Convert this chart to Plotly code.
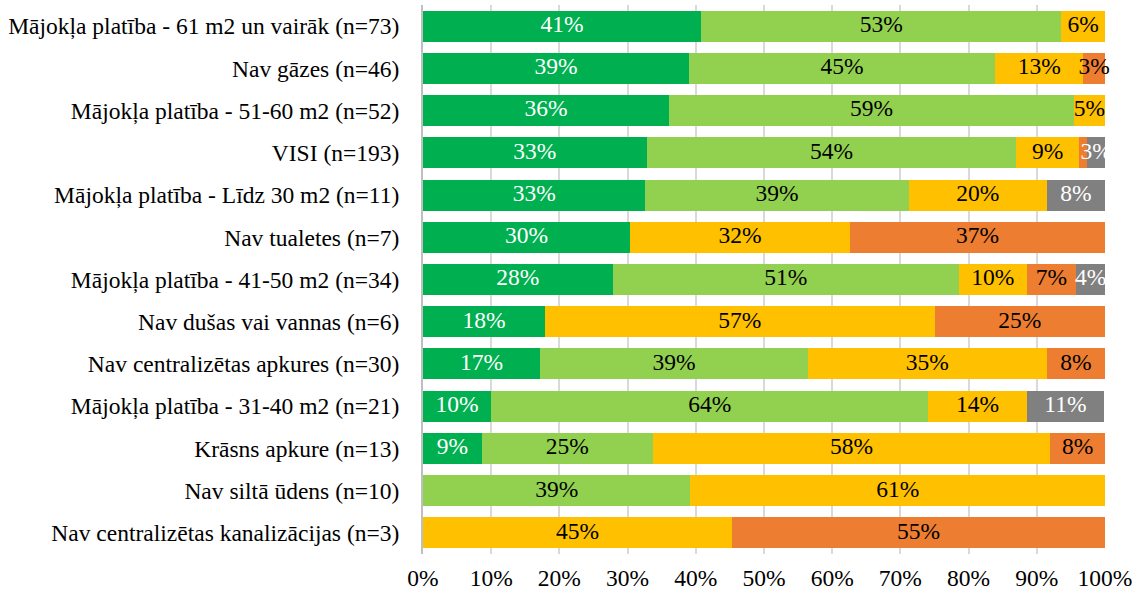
import plotly.graph_objects as go

categories = [
    "Mājokļa platība - 61 m2 un vairāk (n=73)",
    "Nav gāzes (n=46)",
    "Mājokļa platība - 51-60 m2 (n=52)",
    "VISI (n=193)",
    "Mājokļa platība - Līdz 30 m2 (n=11)",
    "Nav tualetes (n=7)",
    "Mājokļa platība - 41-50 m2 (n=34)",
    "Nav dušas vai vannas (n=6)",
    "Nav centralizētas apkures (n=30)",
    "Mājokļa platība - 31-40 m2 (n=21)",
    "Krāsns apkure (n=13)",
    "Nav siltā ūdens (n=10)",
    "Nav centralizētas kanalizācijas (n=3)",
]

s1 = [40.8, 39.0, 36.1, 32.8, 32.6, 30.4, 27.8, 17.9, 17.2, 10.0, 8.6, 0, 0]
s2 = [52.8, 44.9, 59.3, 54.2, 38.6, 0, 50.8, 0, 39.2, 64.1, 25.1, 39.2, 0]
s3 = [6.4, 12.9, 4.6, 9.2, 20.3, 32.2, 9.9, 57.1, 35.1, 14.4, 58.3, 60.8, 45.3]
s4 = [0, 3.2, 0, 1.2, 0, 37.4, 7.3, 25.0, 8.5, 0, 8.0, 0, 54.7]
s5 = [0, 0, 0, 2.6, 8.5, 0, 4.2, 0, 0, 11.4, 0, 0, 0]

series = [
    (s1, "#00B050", "white"),
    (s2, "#92D050", "black"),
    (s3, "#FFC000", "black"),
    (s4, "#ED7D31", "black"),
    (s5, "#808080", "white"),
]

FONT = "Liberation Serif, Times New Roman, serif"
FS = 23.5

fig = go.Figure()
base = [0.0] * len(categories)
lx, ly, lt, lc = [], [], [], []
for vals, color, tcolor in series:
    fig.add_trace(go.Bar(
        y=categories, x=vals, orientation="h",
        marker=dict(color=color, line=dict(width=0)),
        hoverinfo="skip",
    ))
    for i, v in enumerate(vals):
        if v >= 2:
            lx.append(base[i] + v / 2)
            ly.append(categories[i])
            lt.append(f"{round(v)}%")
            lc.append(tcolor)
        base[i] += v

fig.add_trace(go.Scatter(
    x=lx, y=ly, mode="text", text=lt,
    textposition="middle center",
    textfont=dict(family=FONT, size=FS, color=lc),
    cliponaxis=False, hoverinfo="skip",
))

fig.update_layout(
    barmode="stack",
    bargap=0.265,
    width=1137, height=594,
    margin=dict(l=423, r=32, t=5, b=40),
    plot_bgcolor="white", paper_bgcolor="white",
    showlegend=False,
    font=dict(family=FONT, size=FS, color="black"),
)
fig.update_xaxes(
    range=[0, 100], dtick=10, ticksuffix="%",
    showgrid=True, gridcolor="#D9D9D9", gridwidth=2,
    zeroline=False, showline=False, automargin=False,
    tickfont=dict(family=FONT, size=FS, color="black"),
    ticklabelstandoff=7,
)
fig.update_yaxes(
    range=[len(categories) - 0.5, -0.5], automargin=False,
    showline=True, linecolor="#BFBFBF", linewidth=2,
    ticks="", ticklabelstandoff=17,
    tickfont=dict(family=FONT, size=FS, color="black"),
)

fig.write_html("out.html", config={"displayModeBar": False},
               post_script="document.body.style.margin='0';")
